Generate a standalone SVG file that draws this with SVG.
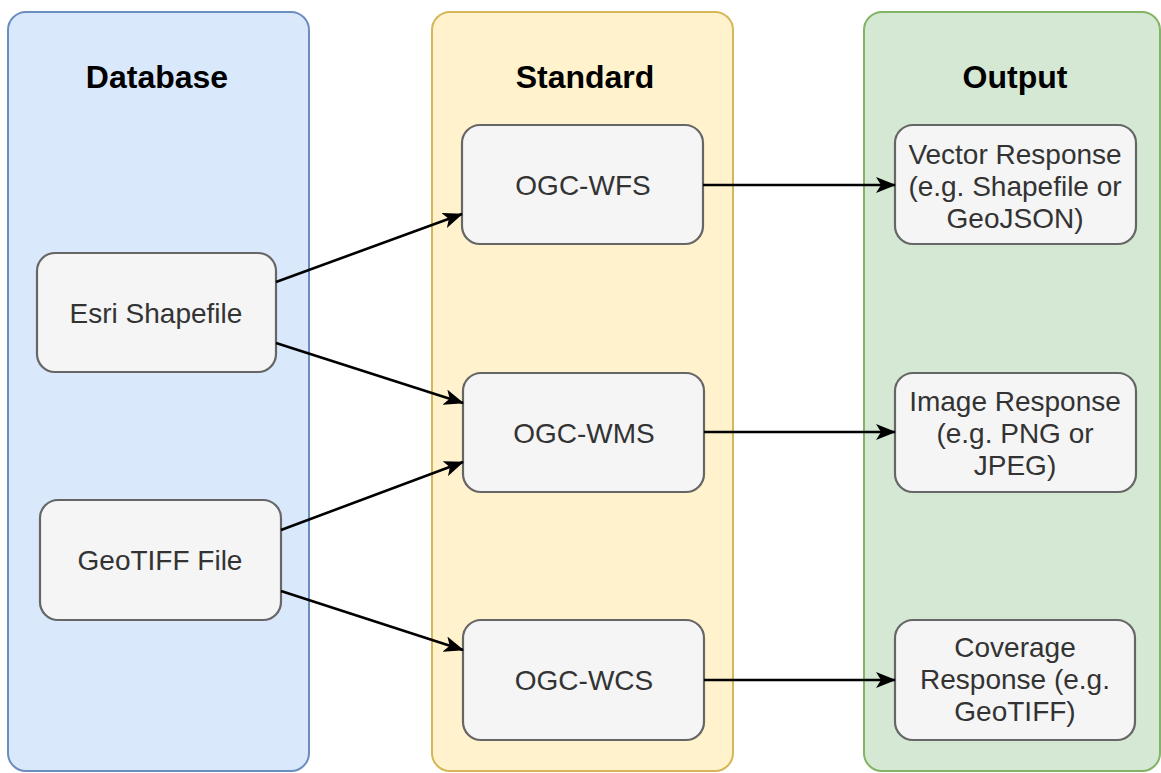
<svg xmlns="http://www.w3.org/2000/svg" width="1161" height="773" viewBox="0 0 1161 773">
<defs>
<style>
.title{font-family:"Liberation Sans",Arial,sans-serif;font-weight:bold;font-size:32px;fill:#000;text-anchor:middle}
.lbl{font-family:"Liberation Sans",Arial,sans-serif;font-size:28px;fill:#333;text-anchor:middle}
.node{fill:#f5f5f5;stroke:#666;stroke-width:2.2}
.edge{fill:none;stroke:#000;stroke-width:2.6}
</style>
<marker id="arr" markerUnits="userSpaceOnUse" markerWidth="20" markerHeight="16" refX="19" refY="8" orient="auto" viewBox="0 0 20 16">
<path d="M0,0 L20,8 L0,16 L5,8 Z" fill="#000"/>
</marker>
</defs>
<rect width="1161" height="773" fill="#fff"/>
<g id="database">
<rect x="8" y="12" width="301" height="759" rx="18" fill="#dae8fc" stroke="#6c8ebf" stroke-width="2"/>
<text class="title" x="157" y="88">Database</text>
</g>
<g id="standard">
<rect x="432" y="12" width="301" height="759" rx="18" fill="#fff2cc" stroke="#d6b656" stroke-width="2"/>
<text class="title" x="585" y="88">Standard</text>
</g>
<g id="output">
<rect x="864" y="12" width="296" height="759" rx="18" fill="#d5e8d4" stroke="#82b366" stroke-width="2"/>
<text class="title" x="1015" y="88">Output</text>
</g>
<g id="esri">
<rect class="node" x="37" y="253" width="239" height="119" rx="18"/>
<text class="lbl" x="156" y="323">Esri Shapefile</text>
</g>
<g id="geotiff">
<rect class="node" x="40" y="500" width="241" height="120" rx="18"/>
<text class="lbl" x="160" y="570">GeoTIFF File</text>
</g>
<g id="wfs">
<rect class="node" x="462" y="125" width="241" height="119" rx="18"/>
<text class="lbl" x="583" y="195">OGC-WFS</text>
</g>
<g id="wms">
<rect class="node" x="463" y="373" width="241" height="119" rx="18"/>
<text class="lbl" x="584" y="443">OGC-WMS</text>
</g>
<g id="wcs">
<rect class="node" x="463" y="620" width="241" height="120" rx="18"/>
<text class="lbl" x="584" y="690">OGC-WCS</text>
</g>
<g id="vector">
<rect class="node" x="895" y="125" width="241" height="119" rx="18"/>
<text class="lbl" x="1015" y="164">Vector Response</text>
<text class="lbl" x="1015" y="196">(e.g. Shapefile or</text>
<text class="lbl" x="1015" y="228">GeoJSON)</text>
</g>
<g id="image">
<rect class="node" x="895" y="373" width="241" height="119" rx="18"/>
<text class="lbl" x="1015" y="411">Image Response</text>
<text class="lbl" x="1015" y="443">(e.g. PNG or</text>
<text class="lbl" x="1015" y="475">JPEG)</text>
</g>
<g id="coverage">
<rect class="node" x="895" y="620" width="240" height="120" rx="18"/>
<text class="lbl" x="1015" y="657">Coverage</text>
<text class="lbl" x="1015" y="689">Response (e.g.</text>
<text class="lbl" x="1015" y="721">GeoTIFF)</text>
</g>
<g id="connectors">
<line class="edge" x1="276" y1="282" x2="462" y2="214" marker-end="url(#arr)"/>
<line class="edge" x1="276" y1="343" x2="463" y2="403" marker-end="url(#arr)"/>
<line class="edge" x1="281" y1="530" x2="463" y2="462" marker-end="url(#arr)"/>
<line class="edge" x1="281" y1="591" x2="463" y2="650" marker-end="url(#arr)"/>
<line class="edge" x1="703" y1="185" x2="895" y2="185" marker-end="url(#arr)"/>
<line class="edge" x1="704" y1="432" x2="895" y2="432" marker-end="url(#arr)"/>
<line class="edge" x1="704" y1="680" x2="895" y2="680" marker-end="url(#arr)"/>
</g>
</svg>
